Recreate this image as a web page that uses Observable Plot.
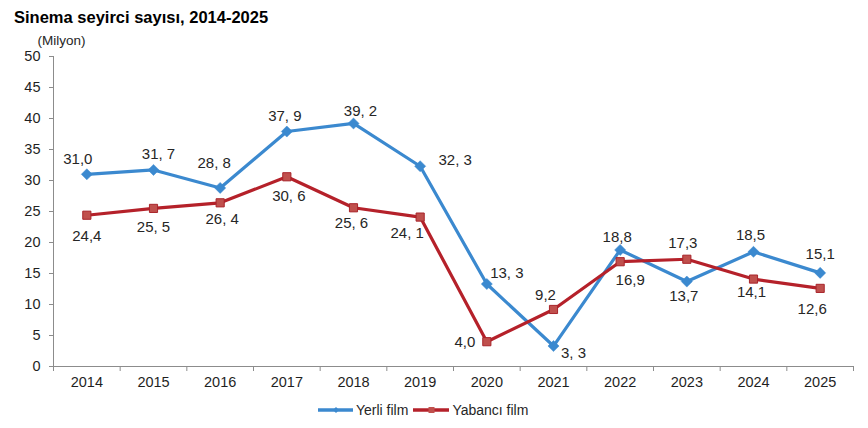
<!DOCTYPE html>
<html><head><meta charset="utf-8">
<script src="https://cdn.jsdelivr.net/npm/d3@7"></script>
<script src="https://cdn.jsdelivr.net/npm/@observablehq/plot@0.6"></script>
<style>
body{margin:0;background:#fff;font-family:"Liberation Sans",Arial,sans-serif;}
#wrap{position:relative;width:868px;height:428px;overflow:hidden;}
#title{position:absolute;left:14px;top:7px;font-weight:bold;font-size:16.5px;line-height:20px;color:#000;white-space:nowrap;}
#chart{position:absolute;left:0;top:28px;}
#legend{position:absolute;left:318px;top:398px;height:24px;display:flex;align-items:center;font-size:14px;color:#262626;white-space:nowrap;}
#legend svg{display:block;}
</style></head>
<body><div id="wrap"><div id="title"></div><div id="chart"></div><div id="legend"></div></div>
<script>
// ---- data ----
const title = "Sinema seyirci sayısı, 2014-2025";
const unitLabel = "(Milyon)";
const years = [2014, 2015, 2016, 2017, 2018, 2019, 2020, 2021, 2022, 2023, 2024, 2025];
const seriesNames = ["Yerli film", "Yabancı film"];
const yerli = [31.0, 31.7, 28.8, 37.9, 39.2, 32.3, 13.3, 3.3, 18.8, 13.7, 18.5, 15.1];
const yabanci = [24.4, 25.5, 26.4, 30.6, 25.6, 24.1, 4.0, 9.2, 16.9, 17.3, 14.1, 12.6];
const yerliLabels = ["31,0", "31, 7", "28, 8", "37, 9", "39, 2", "32, 3", "13, 3", "3, 3", "18,8", "13,7", "18,5", "15,1"];
const yabanciLabels = ["24,4", "25, 5", "26, 4", "30, 6", "25, 6", "24, 1", "4,0", "9,2", "16,9", "17,3", "14,1", "12,6"];
const yTicks = [0, 5, 10, 15, 20, 25, 30, 35, 40, 45, 50];

// ---- layout / style ----
const blue = "#3b89cf", red = "#b5212a", redMarker = "#c0504d";
const yerliDx = [-9, 5, -6, -2, 7, 35, 20, 20, -3, -3, -3, 0];
const yerliDy = [-15, -16, -25, -15, -12, -6, -11, 7, -13, 15, -17, -19];
const yabanciDx = [0, 0, 2, 2, -2, -13, -22, -8, 10, -4, -2, -8];
const yabanciDy = [21, 19, 16, 19, 15, 16, 0, -14, 18, -16, 13, 21];

document.getElementById("title").textContent = title;

const idx = d3.range(years.length);
const boundaries = d3.range(years.length + 1).map(i => years[0] - 0.5 + i);
const labelFont = {fill: "#262626", fontSize: 15, textAnchor: "middle"};

const labelMarks = [];
idx.forEach(i => {
  labelMarks.push(Plot.text([i], {x: j => years[j], y: j => yerli[j], text: j => yerliLabels[j], dx: yerliDx[i], dy: yerliDy[i], ...labelFont}));
  labelMarks.push(Plot.text([i], {x: j => years[j], y: j => yabanci[j], text: j => yabanciLabels[j], dx: yabanciDx[i], dy: yabanciDy[i], ...labelFont}));
});

const chart = Plot.plot({
  width: 868, height: 370,
  marginLeft: 53, marginRight: 15, marginTop: 28, marginBottom: 32,
  style: {fontFamily: "'Liberation Sans', Arial, sans-serif", background: "#fff", overflow: "visible"},
  x: {type: "linear", domain: [years[0] - 0.5, years[years.length - 1] + 0.5]},
  y: {domain: [0, 50]},
  marks: [
    Plot.ruleX([years[0] - 0.5], {stroke: "#8c8c8c"}),
    Plot.ruleY([0], {stroke: "#8c8c8c"}),
    Plot.axisY({ticks: yTicks, tickSize: 4, tickPadding: 9, stroke: "#8c8c8c", fill: "#1f1f1f", fontSize: 14.5, label: null}),
    Plot.axisX({ticks: boundaries, tickSize: 5, tickFormat: () => "", stroke: "#8c8c8c", label: null}),
    Plot.axisX({ticks: years, tickSize: 0, tickPadding: 10, tickFormat: d => String(d), fill: "#1f1f1f", fontSize: 14.5, label: null}),
    Plot.text([unitLabel], {frameAnchor: "top-left", lineAnchor: "middle", dx: 8, dy: -16, textAnchor: "middle", fill: "#262626", fontSize: 13.5}),
    Plot.line(idx, {x: i => years[i], y: i => yerli[i], stroke: blue, strokeWidth: 3.2}),
    Plot.dot(idx, {x: i => years[i], y: i => yerli[i], symbol: "diamond2", r: 5, fill: blue, stroke: blue, strokeWidth: 0.5}),
    Plot.line(idx, {x: i => years[i], y: i => yabanci[i], stroke: red, strokeWidth: 3.2}),
    Plot.dot(idx, {x: i => years[i], y: i => yabanci[i], symbol: "square", r: 4.6, fill: redMarker, stroke: "#a8242a", strokeWidth: 1}),
    ...labelMarks
  ]
});
document.getElementById("chart").appendChild(chart);

// legend
const legend = document.getElementById("legend");
[[seriesNames[0], blue, "diamond"], [seriesNames[1], red, "square"]].forEach(([name, color, shape], k) => {
  const w = k === 0 ? 36 : 37;
  const s = d3.create("svg").attr("width", w).attr("height", 12);
  s.append("line").attr("x1", 0).attr("x2", w - 1).attr("y1", 6).attr("y2", 6).attr("stroke", color).attr("stroke-width", 3.4);
  if (shape === "diamond") s.append("path").attr("d", `M${w/2},3L${w/2+3},6L${w/2},9L${w/2-3},6Z`).attr("fill", color);
  else s.append("rect").attr("x", w/2 - 3).attr("y", 3).attr("width", 6).attr("height", 6).attr("fill", redMarker);
  const item = document.createElement("div");
  item.style.display = "flex"; item.style.alignItems = "center";
  item.style.marginRight = k === 0 ? "5px" : "0";
  item.appendChild(s.node());
  const t = document.createElement("span");
  t.textContent = name; t.style.marginLeft = "2px";
  item.appendChild(t);
  legend.appendChild(item);
});
</script>
</body></html>
